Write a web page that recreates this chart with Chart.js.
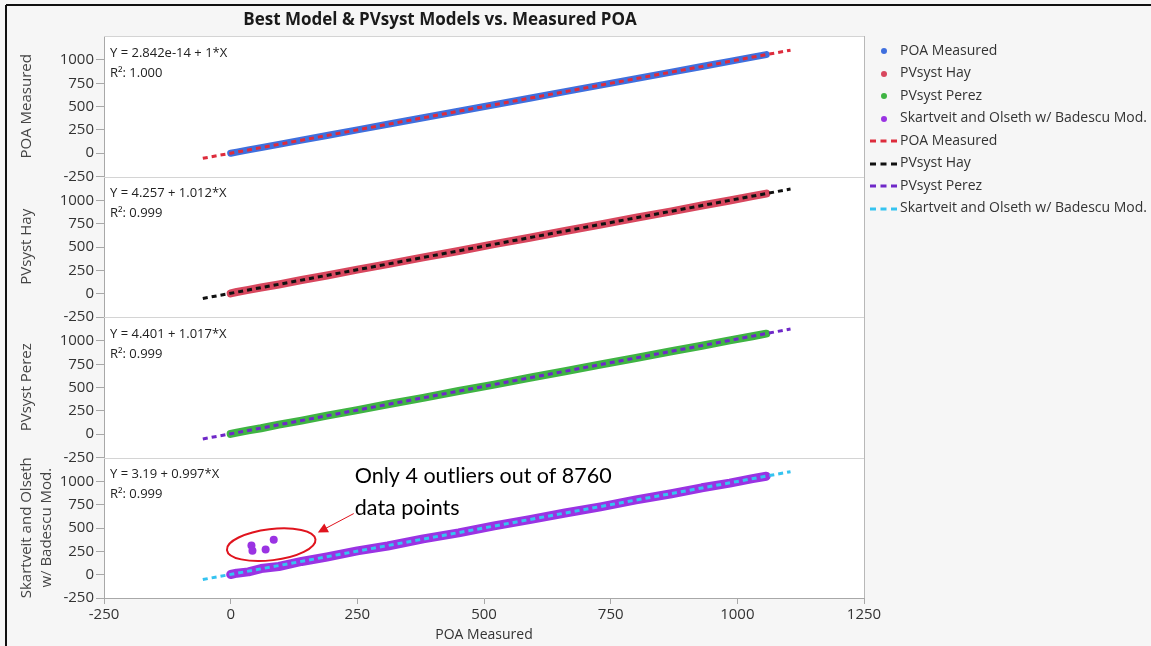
<!DOCTYPE html>
<html>
<head>
<meta charset="utf-8">
<script src="https://cdn.jsdelivr.net/npm/chart.js@4"></script>
<style>
html,body{margin:0;padding:0;background:#f6f6f6;overflow:hidden;}
canvas{display:block;}
</style>
</head>
<body>
<canvas id="c" width="1151" height="646"></canvas>
<script>
// ---------- data ----------
const measured      = [0, 12, 35, 60, 95, 140, 190, 250, 310, 380, 450, 520, 590, 660, 730, 800, 870, 930, 985, 1030, 1057];
const poaMeasured   = [0, 12, 35, 60, 95, 140, 190, 250, 310, 380, 450, 520, 590, 660, 730, 800, 870, 930, 985, 1030, 1057];
const pvsystHay     = [3, 18, 41, 66, 99, 147, 195, 258, 317, 390, 458, 531, 600, 673, 742, 815, 883, 946, 1000, 1047, 1073];
const pvsystPerez   = [3, 17, 41, 64, 102, 146, 199, 258, 321, 390, 463, 532, 605, 675, 748, 817, 890, 949, 1007, 1051, 1078];
const skartveit     = [2, 16, 30, 66, 88, 142, 190, 255, 308, 384, 448, 523, 590, 662, 728, 802, 868, 932, 982, 1030, 1056];
const outlierMeasured  = [41, 43, 69, 85];
const outlierSkartveit = [312, 258, 269, 376];
const fitMeasured   = [-55, 1105];
const fitPOA        = [-55, 1105];
const fitHay        = [-51.4, 1122.5];
const fitPerez      = [-51.5, 1128.2];
const fitSkartveit  = [-51.6, 1104.9];
const xTicks = [-250, 0, 250, 500, 750, 1000, 1250];
const yTicks = [-250, 0, 250, 500, 750, 1000];
const seriesNames = ['POA Measured', 'PVsyst Hay', 'PVsyst Perez', 'Skartveit and Olseth w/ Badescu Mod.'];
const panelTitles = ['POA Measured', 'PVsyst Hay', 'PVsyst Perez', ['Skartveit and Olseth', 'w/ Badescu Mod.']];
const equations = ['Y = 2.842e-14 + 1*X', 'Y = 4.257 + 1.012*X', 'Y = 4.401 + 1.017*X', 'Y = 3.19 + 0.997*X'];
const rSquared = ['1.000', '0.999', '0.999', '0.999'];
const chartTitle = 'Best Model & PVsyst Models vs. Measured POA';
const xTitle = 'POA Measured';
const noteLines = ['Only 4 outliers out of 8760', 'data points'];
// annotation anchors in data units of the bottom panel
const noteAt = {x: 245, y1: 1054, y2: 720};
const ellipseAt = {x: 80, y: 322, rx: 88, ry: 167};
const arrowFrom = {x: 243, y: 656};
const arrowTo = {x: 172, y: 452};

// ---------- styles ----------
const FONT = '"Open Sans", "Noto Sans", sans-serif';
const scatterColors = ['#3f6fde', '#d8475e', '#3fb443', '#9a33e3'];
const fitColors = ['#dd2c3c', '#111111', '#6f28c8', '#35c3f0'];
const bandWidths = [7, 8, 8, 9];
const yIds = ['y1', 'y2', 'y3', 'y4'];

const pts = (xs, ys) => xs.map((x, i) => ({x: x, y: ys[i]}));
const seriesY = [poaMeasured, pvsystHay, pvsystPerez, skartveit];
const fitY = [fitPOA, fitHay, fitPerez, fitSkartveit];

function dotSymbol(color) {
  const c = document.createElement('canvas');
  c.width = 8; c.height = 8;
  const g = c.getContext('2d');
  g.fillStyle = color; g.beginPath(); g.arc(4, 4, 3, 0, Math.PI * 2); g.fill();
  return c;
}
function dashSymbol(color) {
  const c = document.createElement('canvas');
  c.width = 28; c.height = 4;
  const g = c.getContext('2d');
  g.fillStyle = color;
  [0, 10.5, 21].forEach(x0 => g.fillRect(x0, 0.5, 6, 3));
  return c;
}

const datasets = [];
for (let i = 0; i < 4; i++) {
  datasets.push({
    label: seriesNames[i], data: pts(measured, seriesY[i]), yAxisID: yIds[i],
    showLine: true, borderColor: scatterColors[i], backgroundColor: scatterColors[i],
    borderWidth: bandWidths[i], borderCapStyle: 'round', borderJoinStyle: 'round',
    pointRadius: 0, pointHoverRadius: 0, order: 1,
    legendSymbol: dotSymbol(scatterColors[i])
  });
}
for (let i = 0; i < 4; i++) {
  datasets.push({
    label: seriesNames[i], data: pts(fitMeasured, fitY[i]), yAxisID: yIds[i],
    showLine: true, borderColor: fitColors[i], backgroundColor: fitColors[i],
    borderWidth: 3, borderDash: [5, 4], pointRadius: 0, pointHoverRadius: 0, order: 0,
    legendSymbol: dashSymbol(fitColors[i])
  });
}
datasets.push({
  label: 'outliers', data: pts(outlierMeasured, outlierSkartveit), yAxisID: 'y4',
  showLine: false, backgroundColor: scatterColors[3], borderColor: scatterColors[3],
  pointRadius: 4, pointBorderWidth: 0, order: 1, legendHidden: true
});

function yScale(i) {
  return {
    type: 'linear', position: 'left', stack: 'panels', stackWeight: 1,
    min: -250, max: 1257, offset: false,
    afterBuildTicks: s => { s.ticks = yTicks.map(v => ({value: v})); },
    afterFit: s => { s.width = 98; },
    border: {display: true, color: '#a8a8a8', width: 1},
    grid: {display: true, drawOnChartArea: false, drawTicks: true, tickLength: 8, color: '#a8a8a8'},
    ticks: {color: '#333', font: {family: FONT, size: 15}, padding: 2, autoSkip: false,
            callback: v => String(v)},
    title: {display: true, text: panelTitles[i], color: '#444',
            font: {family: FONT, size: 15, lineHeight: 1.3}, padding: {top: 11, bottom: 0}}
  };
}

const decor = {
  id: 'decor',
  beforeDraw(chart) {
    const {ctx, chartArea: a} = chart;
    ctx.save();
    ctx.fillStyle = '#f6f6f6'; ctx.fillRect(0, 0, chart.width, chart.height);
    ctx.fillStyle = '#ffffff'; ctx.fillRect(a.left, a.top, a.right - a.left, a.bottom - a.top);
    ctx.strokeStyle = '#111'; ctx.lineWidth = 2;
    ctx.beginPath(); ctx.moveTo(6, 5); ctx.lineTo(chart.width, 5); ctx.stroke();
    ctx.beginPath(); ctx.moveTo(6, 5); ctx.lineTo(6, chart.height); ctx.stroke();
    // title
    ctx.fillStyle = '#1a1a1a'; ctx.font = 'bold 17px ' + FONT;
    ctx.textAlign = 'center'; ctx.textBaseline = 'middle';
    ctx.fillText(chartTitle, (6 + a.right) / 2 + 5, 20);
    ctx.restore();
  },
  afterDatasetsDraw(chart) {
    const {ctx, chartArea: a, scales} = chart;
    ctx.save();
    // panel frames
    ctx.strokeStyle = '#d4d4d4'; ctx.lineWidth = 1;
    yIds.forEach(id => {
      const s = scales[id];
      ctx.beginPath(); ctx.moveTo(a.left, Math.round(s.top) + 0.5); ctx.lineTo(a.right, Math.round(s.top) + 0.5); ctx.stroke();
    });
    ctx.strokeStyle = '#b8b8b8';
    ctx.beginPath(); ctx.moveTo(Math.round(a.right) + 0.5, a.top); ctx.lineTo(Math.round(a.right) + 0.5, a.bottom); ctx.stroke();
    // equations
    ctx.fillStyle = '#222'; ctx.font = '13px ' + FONT; ctx.textAlign = 'left'; ctx.textBaseline = 'middle';
    yIds.forEach((id, i) => {
      const s = scales[id];
      ctx.fillText(equations[i], a.left + 6, s.top + 17);
      ctx.fillText('R\u00B2: ' + rSquared[i], a.left + 6, s.top + 37);
    });
    // annotation
    const x = scales.x, y = scales.y4;
    ctx.fillStyle = '#000'; ctx.font = '21.5px Lato, ' + FONT;
    ctx.fillText(noteLines[0], x.getPixelForValue(noteAt.x), y.getPixelForValue(noteAt.y1));
    ctx.fillText(noteLines[1], x.getPixelForValue(noteAt.x), y.getPixelForValue(noteAt.y2));
    const cx = x.getPixelForValue(ellipseAt.x), cy = y.getPixelForValue(ellipseAt.y);
    const rx = x.getPixelForValue(ellipseAt.x + ellipseAt.rx) - cx;
    const ry = cy - y.getPixelForValue(ellipseAt.y + ellipseAt.ry);
    ctx.strokeStyle = '#e0141e'; ctx.lineWidth = 2;
    ctx.beginPath(); ctx.ellipse(cx, cy, rx, ry, -0.12, 0, Math.PI * 2); ctx.stroke();
    const x0 = x.getPixelForValue(arrowFrom.x), y0 = y.getPixelForValue(arrowFrom.y);
    const x1 = x.getPixelForValue(arrowTo.x), y1 = y.getPixelForValue(arrowTo.y);
    const ang = Math.atan2(y1 - y0, x1 - x0);
    ctx.lineWidth = 1;
    ctx.beginPath(); ctx.moveTo(x0, y0); ctx.lineTo(x1 - 8 * Math.cos(ang), y1 - 8 * Math.sin(ang)); ctx.stroke();
    ctx.fillStyle = '#e0141e';
    ctx.beginPath();
    ctx.moveTo(x1, y1);
    ctx.lineTo(x1 - 10 * Math.cos(ang) + 5 * Math.sin(ang), y1 - 10 * Math.sin(ang) - 5 * Math.cos(ang));
    ctx.lineTo(x1 - 10 * Math.cos(ang) - 5 * Math.sin(ang), y1 - 10 * Math.sin(ang) + 5 * Math.cos(ang));
    ctx.closePath(); ctx.fill();
    ctx.restore();
  },
  afterDraw(chart) {
    // legend built from the chart's own datasets
    const {ctx, chartArea: a} = chart;
    const items = chart.data.datasets.filter(d => !d.legendHidden);
    ctx.save();
    ctx.font = '14px ' + FONT; ctx.fillStyle = '#333';
    ctx.textAlign = 'left'; ctx.textBaseline = 'middle';
    const cx = a.right + 19.5, tx = a.right + 36;
    items.forEach((d, i) => {
      const cy = a.top + 15 + i * 22.5;
      const s = d.legendSymbol;
      ctx.drawImage(s, Math.round(cx - s.width / 2), Math.round(cy - s.height / 2));
      ctx.fillText(d.label, tx, cy);
    });
    ctx.restore();
  }
};

new Chart(document.getElementById('c'), {
  type: 'scatter',
  data: {datasets: datasets},
  options: {
    responsive: false, animation: false, devicePixelRatio: 1,
    layout: {padding: {left: 6, top: 36, right: 287, bottom: 0}},
    plugins: {
      title: {display: false},
      tooltip: {enabled: false},
      legend: {display: false}
    },
    scales: {
      x: {
        type: 'linear', position: 'bottom', min: -250, max: 1250,
        afterBuildTicks: s => { s.ticks = xTicks.map(v => ({value: v})); },
        afterFit: s => { s.height = 48; },
        border: {display: true, color: '#a8a8a8', width: 1},
        grid: {display: true, drawOnChartArea: false, drawTicks: true, tickLength: 6, color: '#a8a8a8'},
        ticks: {color: '#333', font: {family: FONT, size: 15}, padding: 2, maxRotation: 0, autoSkip: false,
                callback: v => String(v)},
        title: {display: true, text: xTitle, color: '#333', font: {family: FONT, size: 14}, padding: {top: 0, bottom: 3}}
      },
      y4: yScale(3), y3: yScale(2), y2: yScale(1), y1: yScale(0)
    }
  },
  plugins: [decor]
});
</script>
</body>
</html>
